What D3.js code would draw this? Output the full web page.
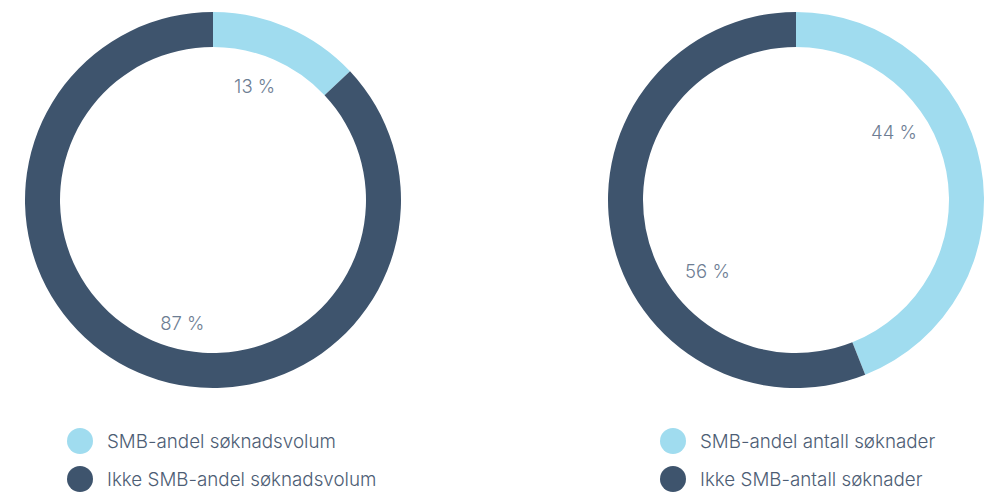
<!DOCTYPE html>
<html>
<head>
<meta charset="utf-8">
<script src="https://cdn.jsdelivr.net/npm/d3@7"></script>
<style>
  body { margin: 0; background: #fff; }
  svg { display: block; font-family: Inter, Roboto, sans-serif; }
  .pct { font-size: 18.5px; font-weight: 300; fill: #6d7d93; }
  .leg { font-size: 18.8px; font-weight: 300; fill: #4d5d74; }
</style>
</head>
<body>
<div id="chart"></div>
<script>
// data
const categoriesVolum = ["SMB-andel søknadsvolum", "Ikke SMB-andel søknadsvolum"];
const valuesVolum = [13, 87];
const categoriesAntall = ["SMB-andel antall søknader", "Ikke SMB-antall søknader"];
const valuesAntall = [44, 56];

const colors = ["#a0dcef", "#3e546d"];

const width = 986, height = 493;
const outerR = 188, innerR = 153;

const svg = d3.select("#chart").append("svg")
  .attr("width", width).attr("height", height);

const pie = d3.pie().sort(null).value(d => d);
const arc = d3.arc().innerRadius(innerR).outerRadius(outerR);

// label placement: [fraction along slice, radius]
function drawDonut(cx, cy, values, cats, labelPos, legendX) {
  const g = svg.append("g").attr("transform", `translate(${cx},${cy})`);
  const arcs = pie(values);

  g.selectAll("path")
    .data(arcs)
    .enter()
    .append("path")
    .attr("d", arc)
    .attr("fill", (d, i) => colors[i]);

  const ang = (d, i) => d.startAngle + (d.endAngle - d.startAngle) * labelPos[i][0];

  g.selectAll(".pct")
    .data(arcs)
    .enter()
    .append("text")
    .attr("class", "pct")
    .attr("text-anchor", "middle")
    .attr("dy", "0.35em")
    .attr("x", (d, i) => labelPos[i][1] * Math.sin(ang(d, i)))
    .attr("y", (d, i) => -labelPos[i][1] * Math.cos(ang(d, i)))
    .text(d => d.data + " %");

  const leg = svg.append("g").attr("transform", `translate(${legendX},441)`);
  const item = leg.selectAll("g")
    .data(cats)
    .enter()
    .append("g")
    .attr("transform", (d, i) => `translate(0,${i * 38})`);
  item.append("circle").attr("r", 13).attr("fill", (d, i) => colors[i]);
  item.append("text")
    .attr("class", "leg")
    .attr("x", 27)
    .attr("dy", "0.35em")
    .text(d => d);
}

drawDonut(213, 200, valuesVolum, categoriesVolum, [[0.43, 121], [0.47, 127]], 80);
drawDonut(796, 200, valuesAntall, categoriesAntall, [[0.35, 119], [0.36, 114]], 673);
</script>
</body>
</html>
